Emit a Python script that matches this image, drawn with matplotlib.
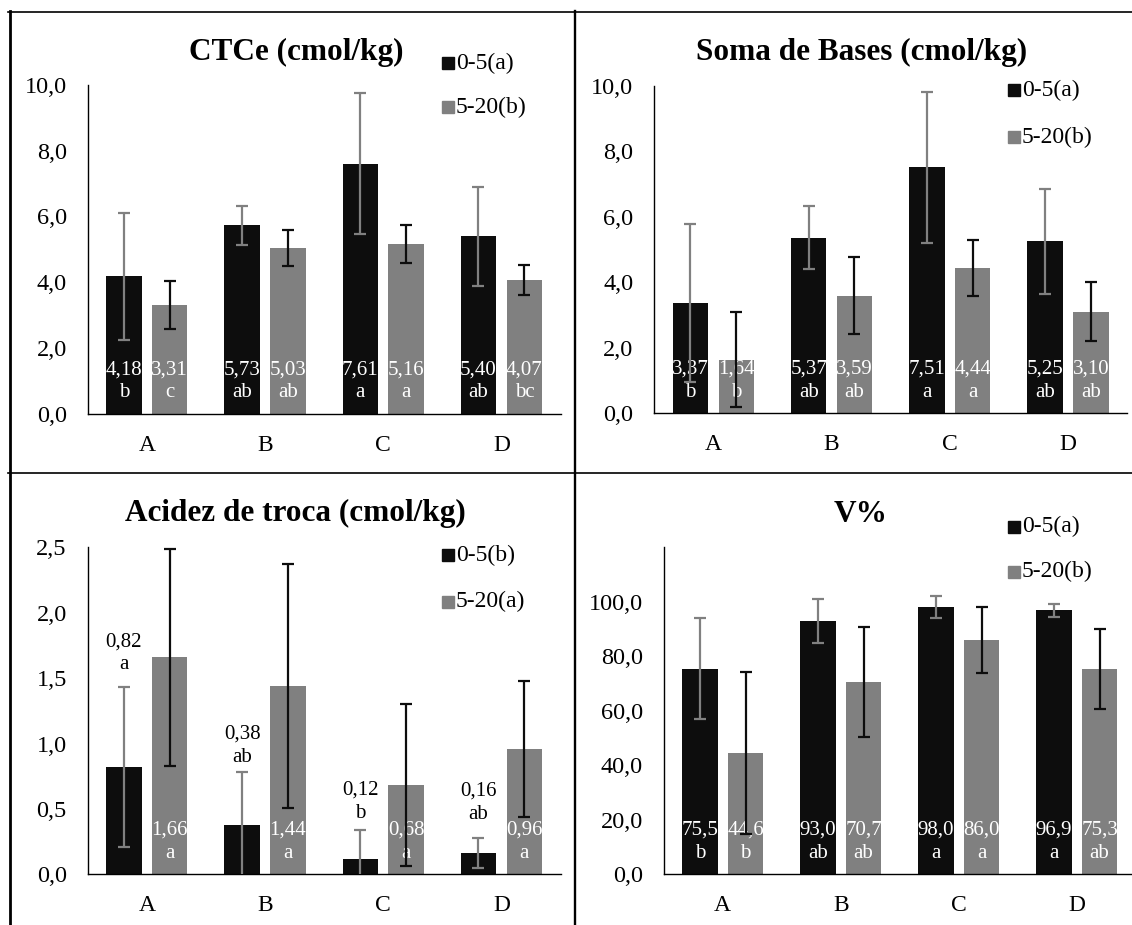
import matplotlib
matplotlib.use("Agg")
import matplotlib.pyplot as plt
from matplotlib.patches import Rectangle
from matplotlib.lines import Line2D
import numpy as np

plt.rcParams['font.family'] = ['Liberation Serif', 'DejaVu Serif']

W, H = 1132, 925
DPI = 100
PT = DPI / 72.0  # pixels per point

BLACK = '#0D0D0D'
GRAY = '#808080'

categories = ["A", "B", "C", "D"]

# CTCe (cmol/kg)
ctce_top = [4.18, 5.73, 7.61, 5.40]
ctce_sub = [3.31, 5.03, 5.16, 4.07]
ctce_top_sd = [1.93, 0.59, 2.15, 1.50]
ctce_sub_sd = [0.73, 0.55, 0.58, 0.46]
ctce_top_letters = ["b", "ab", "a", "ab"]
ctce_sub_letters = ["c", "ab", "a", "bc"]
ctce_legend = ["0-5(a)", "5-20(b)"]

# Soma de Bases (cmol/kg)
sb_top = [3.37, 5.37, 7.51, 5.25]
sb_sub = [1.64, 3.59, 4.44, 3.10]
sb_top_sd = [2.42, 0.95, 2.30, 1.60]
sb_sub_sd = [1.46, 1.18, 0.87, 0.90]
sb_top_letters = ["b", "ab", "a", "ab"]
sb_sub_letters = ["b", "ab", "a", "ab"]
sb_legend = ["0-5(a)", "5-20(b)"]

# Acidez de troca (cmol/kg)
ac_top = [0.82, 0.38, 0.12, 0.16]
ac_sub = [1.66, 1.44, 0.68, 0.96]
ac_top_sd = [0.61, 0.40, 0.22, 0.115]
ac_sub_sd = [0.83, 0.93, 0.62, 0.52]
ac_top_letters = ["a", "ab", "b", "ab"]
ac_sub_letters = ["a", "a", "a", "a"]
ac_legend = ["0-5(b)", "5-20(a)"]

# V%
v_top = [75.5, 93.0, 98.0, 96.9]
v_sub = [44.6, 70.7, 86.0, 75.3]
v_top_sd = [18.5, 8.2, 4.0, 2.4]
v_sub_sd = [29.7, 20.2, 12.2, 14.7]
v_top_letters = ["b", "ab", "a", "a"]
v_sub_letters = ["b", "ab", "a", "ab"]
v_legend = ["0-5(a)", "5-20(b)"]

TICK_FS = 17.5
CAT_FS = 17
LEG_FS = 17
VAL_FS = 15
TITLE_FS = 22.5


def fx(x):
    return x / W


def fy(y):
    return 1 - y / H


def comma(v, d):
    return f"{v:.{d}f}".replace(".", ",")


fig = plt.figure(figsize=(W / DPI, H / DPI), dpi=DPI)

OFF = 0.194
BW = 0.30


def panel(rect_px, title, title_xy, legend_xy, legend_labels,
          top, sub, top_sd, sub_sd, top_letters, sub_letters,
          ymax, yticks, tick_dec, val_dec, top_above=None):
    x0, y0, x1, y1 = rect_px
    ax = fig.add_axes([fx(x0), fy(y1), (x1 - x0) / W, (y1 - y0) / H])
    x = np.arange(len(categories))
    ax.bar(x - OFF, top, BW, color=BLACK, zorder=2)
    ax.bar(x + OFF, sub, BW, color=GRAY, zorder=2)
    ax.errorbar(x - OFF, top, yerr=top_sd, fmt='none', ecolor=GRAY,
                elinewidth=1.6, capsize=4.3, capthick=1.6, zorder=4)
    ax.errorbar(x + OFF, sub, yerr=sub_sd, fmt='none', ecolor=BLACK,
                elinewidth=1.6, capsize=4.3, capthick=1.6, zorder=4)
    ax.set_xlim(-0.5, len(categories) - 0.5)
    ax.set_ylim(0, ymax)
    ax.set_xticks(x)
    ax.set_xticklabels(categories, fontsize=CAT_FS)
    ax.set_yticks(yticks)
    ax.set_yticklabels([comma(t, tick_dec) for t in yticks], fontsize=TICK_FS)
    ax.tick_params(axis='both', length=0)
    ax.tick_params(axis='y', pad=15)
    ax.tick_params(axis='x', pad=15.2)
    for s in ('top', 'right'):
        ax.spines[s].set_visible(False)
    for s in ('left', 'bottom'):
        ax.spines[s].set_linewidth(1.0)
        ax.spines[s].set_color('black')

    # value / letter labels at the base of the bars
    def base_labels(xs, vals, letters, color):
        for xi, v, l in zip(xs, vals, letters):
            ax.annotate(comma(v, val_dec), xy=(xi, 0), xytext=(0, 39.5 / PT),
                        textcoords='offset points', ha='center',
                        va='baseline', color=color, fontsize=VAL_FS, zorder=3,
                        annotation_clip=False)
            ax.annotate(l, xy=(xi, 0), xytext=(0, 16.2 / PT),
                        textcoords='offset points', ha='center',
                        va='baseline', color=color, fontsize=VAL_FS, zorder=3,
                        annotation_clip=False)

    if top_above is None:
        base_labels(x - OFF, top, top_letters, 'white')
    else:
        for xi, v, sd, l, off in zip(x - OFF, top, top_sd, top_letters, top_above):
            ax.annotate(l, xy=(xi, v + sd), xytext=(0, off / PT),
                        textcoords='offset points', ha='center',
                        va='baseline', color='black', fontsize=VAL_FS,
                        annotation_clip=False)
            ax.annotate(comma(v, val_dec), xy=(xi, v + sd),
                        xytext=(0, (off + 23.3) / PT),
                        textcoords='offset points', ha='center',
                        va='baseline', color='black', fontsize=VAL_FS,
                        annotation_clip=False)
    base_labels(x + OFF, sub, sub_letters, 'white')

    fig.text(fx(title_xy[0]), fy(title_xy[1]), title, ha='center',
             va='center', fontsize=TITLE_FS, fontweight='bold')

    lx, rows = legend_xy
    for ry, lab, col in zip(rows, legend_labels, [BLACK, GRAY]):
        fig.add_artist(Rectangle((fx(lx), fy(ry + 6)), 12 / W, 12 / H,
                                 transform=fig.transFigure, color=col))
        fig.text(fx(lx + 14), fy(ry), lab, ha='left', va='center',
                 fontsize=LEG_FS)
    return ax


panel((87.7, 85, 560.5, 413.7), "CTCe (cmol/kg)", (296, 52),
      (442, [63.3, 107.3]), ctce_legend,
      ctce_top, ctce_sub, ctce_top_sd, ctce_sub_sd,
      ctce_top_letters, ctce_sub_letters,
      10, [0, 2, 4, 6, 8, 10], 1, 2)

panel((654.3, 86, 1127, 413.3), "Soma de Bases (cmol/kg)", (862, 52),
      (1008, [90, 137.3]), sb_legend,
      sb_top, sb_sub, sb_top_sd, sb_sub_sd,
      sb_top_letters, sb_sub_letters,
      10, [0, 2, 4, 6, 8, 10], 1, 2)

panel((87.7, 547.3, 560.5, 874.3), "Acidez de troca (cmol/kg)", (295, 513.3),
      (442, [555, 601.7]), ac_legend,
      ac_top, ac_sub, ac_top_sd, ac_sub_sd,
      ac_top_letters, ac_sub_letters,
      2.5, [0, 0.5, 1.0, 1.5, 2.0, 2.5], 1, 2,
      top_above=[17.8, 10.1, 12.2, 19.8])

panel((663.7, 547.3, 1135.7, 874.3), "V%", (861, 515),
      (1008, [526.7, 571.7]), v_legend,
      v_top, v_sub, v_top_sd, v_sub_sd,
      v_top_letters, v_sub_letters,
      120, [0, 20, 40, 60, 80, 100], 1, 1)

# frame lines separating the four charts
frame = [
    ([fx(8), 1], [fy(11.5), fy(11.5)], 1.2),
    ([fx(9.7), fx(9.7)], [fy(11), 0], 2.0),
    ([fx(575.5), fx(575.5)], [fy(11), 0], 1.7),
    ([fx(8), 1], [fy(472.7), fy(472.7)], 1.2),
]
for xs, ys, lw in frame:
    fig.add_artist(Line2D(xs, ys, transform=fig.transFigure,
                          color='black', linewidth=lw))

fig.savefig('out.png', dpi=DPI)
